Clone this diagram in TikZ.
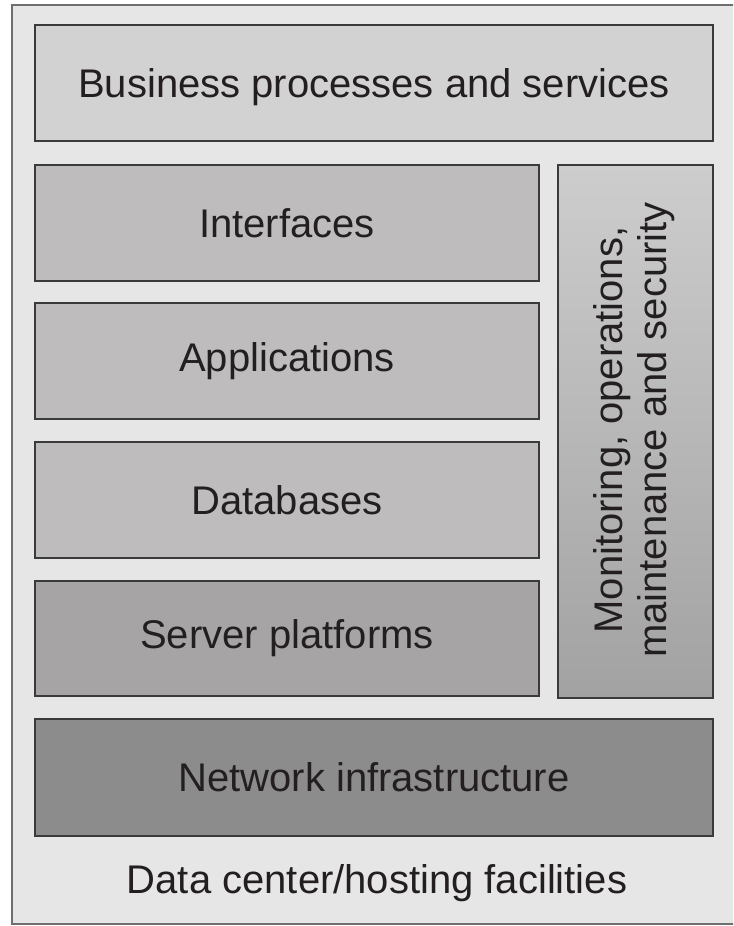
\documentclass[tikz,border=0pt]{standalone}
\usepackage{fontspec}
\setmainfont{Liberation Sans}
\definecolor{outerfill}{HTML}{E6E6E6}
\definecolor{outerline}{HTML}{6E6E6E}
\definecolor{boxline}{HTML}{3A3A3A}
\definecolor{txt}{HTML}{231F20}
\definecolor{fillA}{HTML}{D2D2D2}
\definecolor{fillB}{HTML}{BEBCBD}
\definecolor{fillC}{HTML}{A6A4A5}
\definecolor{fillD}{HTML}{8C8C8C}
\definecolor{gradTop}{HTML}{CDCDCD}
\definecolor{gradBot}{HTML}{A2A2A2}
\begin{document}
\begin{tikzpicture}[x=0.75pt,y=-0.75pt,
  layer/.style={draw=boxline,line width=1.6pt,text=txt,font=\fontsize{30}{32.5}\selectfont},
  lbl/.style={text=txt,font=\fontsize{30}{32.5}\selectfont}]
\useasboundingbox (0,0) rectangle (733,926);
\begin{scope}
\clip (0,0) rectangle (733,926);
\draw[outerline,line width=1.6pt,fill=outerfill] (12,5) rectangle (760,924);
\end{scope}
% boxes
\draw[layer,fill=fillA] (35,25) rectangle (713,141) node[midway,yshift=-3pt] (bus) {Business processes and services};
\draw[layer,fill=fillB] (35,165) rectangle (539,281) node[midway] (int) {Interfaces};
\draw[layer,fill=fillB] (35,303) rectangle (539,419) node[midway] (app) {Applications};
\draw[layer,fill=fillB] (35,442) rectangle (539,558) node[midway] (db) {Databases};
\draw[layer,fill=fillC] (35,581) rectangle (539,696) node[midway] (srv) {Server platforms};
\draw[layer,top color=gradTop,bottom color=gradBot] (558,165) rectangle (713,698);
\node[lbl,rotate=90,align=center] (mon) at (634,430) {Monitoring, operations,\\maintenance and security};
\draw[layer,fill=fillD] (35,719) rectangle (713,836) node[midway] (net) {Network infrastructure};
\node[lbl] (dc) at (377,883) {Data center/hosting facilities};
\end{tikzpicture}
\end{document}
